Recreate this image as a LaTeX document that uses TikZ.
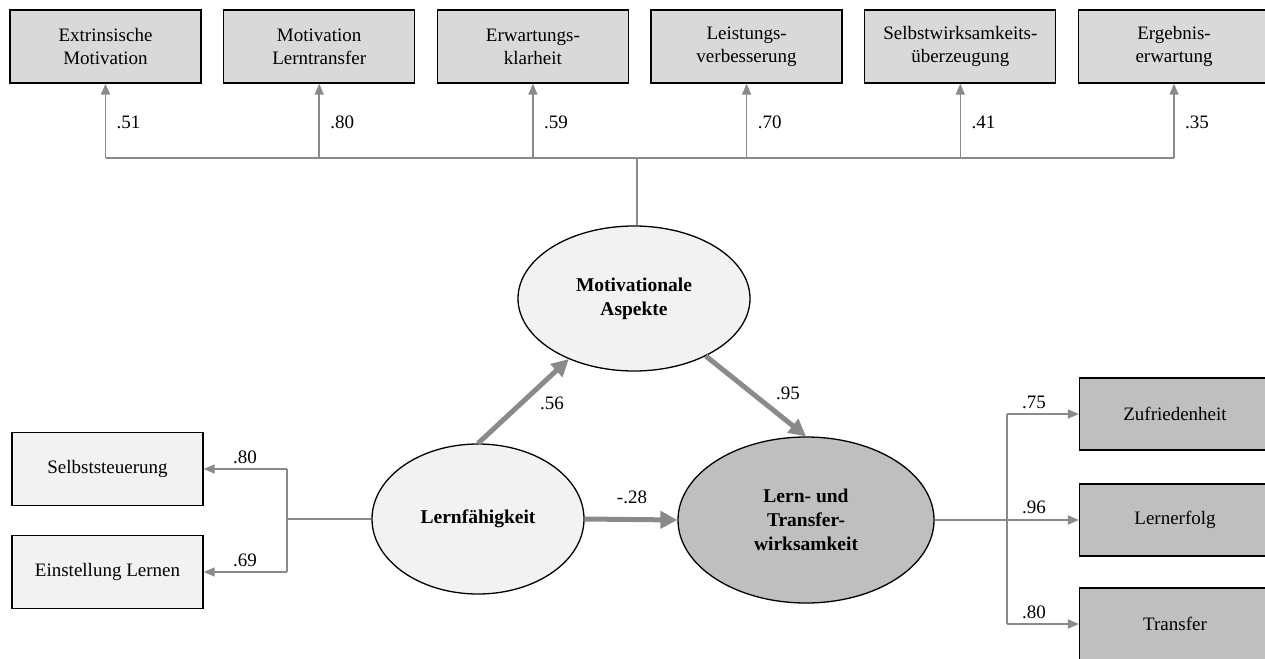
\documentclass[tikz,border=0pt]{standalone}
\usepackage{fontspec}
\setmainfont{Liberation Serif}
\usetikzlibrary{arrows.meta,shapes.geometric}
\definecolor{linegray}{RGB}{138,138,138}
\definecolor{boxtop}{RGB}{217,217,217}
\definecolor{boxlight}{RGB}{242,242,242}
\definecolor{boxdark}{RGB}{191,191,191}
\begin{document}
\begin{tikzpicture}[x=1pt,y=-1pt,
  txt/.style={font=\fontsize{19}{23}\selectfont},
  indic/.style={txt, draw=black, line width=1.3pt, minimum width=191pt,
                minimum height=73pt, inner sep=0pt, align=center},
  latent/.style={ellipse, draw=black, line width=1.3pt, inner sep=0pt,
                 align=center, font=\fontsize{19.5}{24}\selectfont\bfseries},
  conn/.style={draw=linegray, line width=1.6pt},
  load/.style={conn, -{Triangle[length=11pt,width=9pt]}},
  regr/.style={draw=linegray, line width=5pt, -{Triangle[length=17pt,width=17pt]}},
  coef/.style={txt, inner sep=0pt}
]
\useasboundingbox (0,0) rectangle (1265,658);
\clip (0,0) rectangle (1265,658);

% indicators of the motivational factor
\node[indic, fill=boxtop] (t1) at (105.5,46.5) {Extrinsische\\Motivation};
\node[indic, fill=boxtop] (t2) at (319.2,46.5) {Motivation\\Lerntransfer};
\node[indic, fill=boxtop] (t3) at (532.9,46.5) {Erwartungs-\\klarheit};
\node[indic, fill=boxtop] (t4) at (746.6,46.5) {Leistungs-\\verbesserung};
\node[indic, fill=boxtop] (t5) at (960.3,46.5) {Selbstwirksamkeits-\\überzeugung};
\node[indic, fill=boxtop] (t6) at (1174,46.5) {Ergebnis-\\erwartung};

% latent variables
\node[latent, fill=boxlight, minimum width=232pt, minimum height=145pt] (ma) at (634,298.5) {Motivationale\\Aspekte};
\node[latent, fill=boxlight, minimum width=212pt, minimum height=150pt] (lf) at (478,519) {Lernfähigkeit};
\node[latent, fill=boxdark, minimum width=256pt, minimum height=166pt] (lt) at (806,520) {Lern- und\\Transfer-\\wirksamkeit};

% indicators of learning ability
\node[indic, fill=boxlight] (ss) at (107.5,469) {Selbststeuerung};
\node[indic, fill=boxlight] (el) at (107.5,572) {Einstellung Lernen};

% indicators of learning and transfer effectiveness
\node[indic, fill=boxdark, minimum height=72pt] (zu) at (1175,414) {Zufriedenheit};
\node[indic, fill=boxdark, minimum height=72pt] (le) at (1175,520) {Lernerfolg};
\node[indic, fill=boxdark, minimum height=72pt] (tr) at (1175,624) {Transfer};

% top fan
\coordinate (thub) at (637,158);
\draw[conn] (thub) -- (thub |- ma.north);
\draw[conn] (t1.south |- thub) -- (t6.south |- thub);
\foreach \t/\v in {t1/.51,t2/.80,t3/.59,t4/.70,t5/.41,t6/.35}{
  \draw[load] (\t.south |- thub) -- (\t.south);
  \node[coef, anchor=west] at ([xshift=11pt]\t.south |- 0,122) {\v};
}

% left fan
\coordinate (lhub) at (287,519);
\draw[conn] (lf.west) -- (lhub);
\draw[conn] (lhub |- ss.east) -- (lhub |- el.east);
\draw[load] (lhub |- ss.east) -- (ss.east);
\draw[load] (lhub |- el.east) -- (el.east);
\node[coef] at (245,457) {.80};
\node[coef] at (245,560) {.69};

% right fan
\coordinate (rhub) at (1007,520);
\draw[conn] (lt.east) -- (rhub);
\draw[conn] (rhub |- zu.west) -- (rhub |- tr.west);
\draw[load] (rhub |- zu.west) -- (zu.west);
\draw[load] (rhub) -- (le.west);
\draw[load] (rhub |- tr.west) -- (tr.west);
\node[coef] at (1034,402) {.75};
\node[coef] at (1034,507) {.96};
\node[coef] at (1034,612) {.80};

% structural paths
\draw[regr] (lf.north) -- (ma);
\draw[regr] (ma) -- (lt.north);
\draw[regr] (lf.east) -- (lt.west);
\node[coef] at (552,403) {.56};
\node[coef] at (788,393) {.95};
\node[coef] at (632,497) {-.28};
\end{tikzpicture}
\end{document}
